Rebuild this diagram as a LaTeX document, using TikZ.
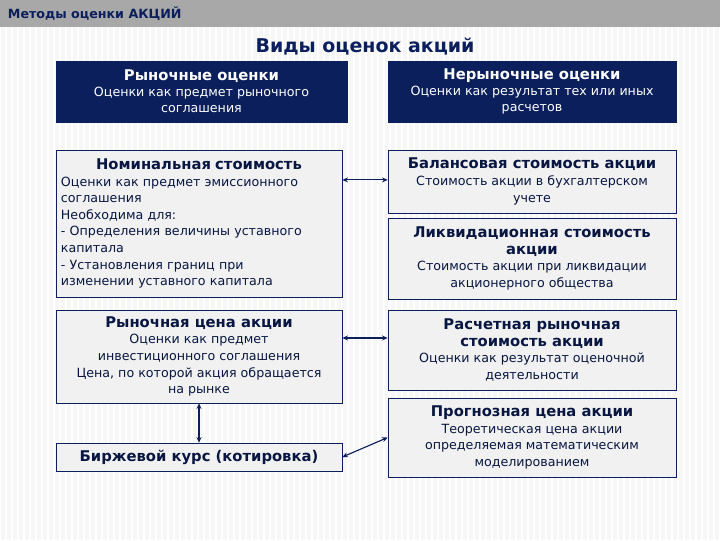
\documentclass[tikz,border=0pt]{standalone}
\usepackage{fontspec}
\setmainfont{DejaVu Sans}
\usetikzlibrary{arrows.meta}
\definecolor{navy}{HTML}{0B1F5C}
\definecolor{boxgray}{HTML}{F1F1F1}
\definecolor{bargray}{HTML}{A8A8A8}
\tikzset{
  headbox/.style={draw=navy, fill=navy, text=white, align=center, inner sep=2pt,
    font=\fontsize{9}{11.5}\selectfont},
  valbox/.style={draw=navy, fill=boxgray, text=navy!70!black, align=center, inner sep=3pt,
    font=\fontsize{9}{11.8}\selectfont},
  link/.style={navy, thick, {Stealth[length=4pt,width=3.5pt]}-{Stealth[length=4pt,width=3.5pt]}},
}
\newcommand{\hd}[1]{{\fontsize{10.5}{13}\selectfont\bfseries #1}}
\begin{document}
\begin{tikzpicture}[x=0.025cm, y=-0.025cm]
  \useasboundingbox (0,0) rectangle (720,540);
  % background
  \fill[boxgray!60] (0,27) rectangle (720,540);
  \foreach \i in {0,6,...,720}
    \draw[white, line width=1.2pt] (\i,27) -- (\i,540);
  \fill[bargray] (0,0) rectangle (720,27);
  \node[anchor=west, text=navy, font=\fontsize{9}{11}\selectfont\bfseries] (top) at (3,14) {Методы оценки АКЦИЙ};
  \node[text=navy, font=\fontsize{13.5}{16}\selectfont\bfseries] (title) at (365,47) {Виды оценок акций};

  \node[headbox, minimum width=7.275cm, minimum height=1.525cm] (market) at (201.5,91.5)
    {\hd{Рыночные оценки}\\Оценки как предмет рыночного\\соглашения};
  \node[headbox, minimum width=7.2cm, minimum height=1.525cm] (nonmarket) at (532,91.5)
    {\hd{Нерыночные оценки}\\Оценки как результат тех или иных\\расчетов};

  \node[valbox, minimum width=7.15cm, minimum height=3.675cm, text width=6.9cm, align=left] (nom) at (199,223.5)
    {\hfill\hd{Номинальная стоимость}\hfill\null\\Оценки как предмет эмиссионного\\соглашения\\Необходима для:\\- Определения величины уставного\\капитала\\- Установления границ при\\изменении уставного капитала};
  \node[valbox, minimum width=7.15cm, minimum height=2.325cm] (rynok) at (199,356.5)
    {\hd{Рыночная цена акции}\\Оценки как предмет\\инвестиционного соглашения\\Цена, по которой акция обращается\\на рынке};
  \node[valbox, minimum width=7.15cm, minimum height=0.7cm] (birzh) at (199,457)
    {\hd{Биржевой курс (котировка)}};

  \node[valbox, minimum width=7.2cm, minimum height=1.575cm] (bal) at (532,181.5)
    {\hd{Балансовая стоимость акции}\\Стоимость акции в бухгалтерском\\учете};
  \node[valbox, minimum width=7.2cm, minimum height=2.025cm] (liq) at (532,258.5)
    {\hd{Ликвидационная стоимость}\\\hd{акции}\\Стоимость акции при ликвидации\\акционерного общества};
  \node[valbox, minimum width=7.2cm, minimum height=2.0cm] (rasch) at (532,350)
    {\hd{Расчетная рыночная}\\\hd{стоимость акции}\\Оценки как результат оценочной\\деятельности};
  \node[valbox, minimum width=7.2cm, minimum height=1.975cm] (prog) at (532,437.5)
    {\hd{Прогнозная цена акции}\\Теоретическая цена акции\\определяемая математическим\\моделированием};

  \draw[link] ([yshift=0.04cm]bal.west -| nom.east) -- ([yshift=0.04cm]bal.west);
  \draw[link] ([yshift=0.3cm]rasch.west -| rynok.east) -- ([yshift=0.3cm]rasch.west);
  \draw[link] (rynok.south) -- (birzh.north);
  \draw[link] (birzh.east) -- (prog.west);
\end{tikzpicture}
\end{document}
